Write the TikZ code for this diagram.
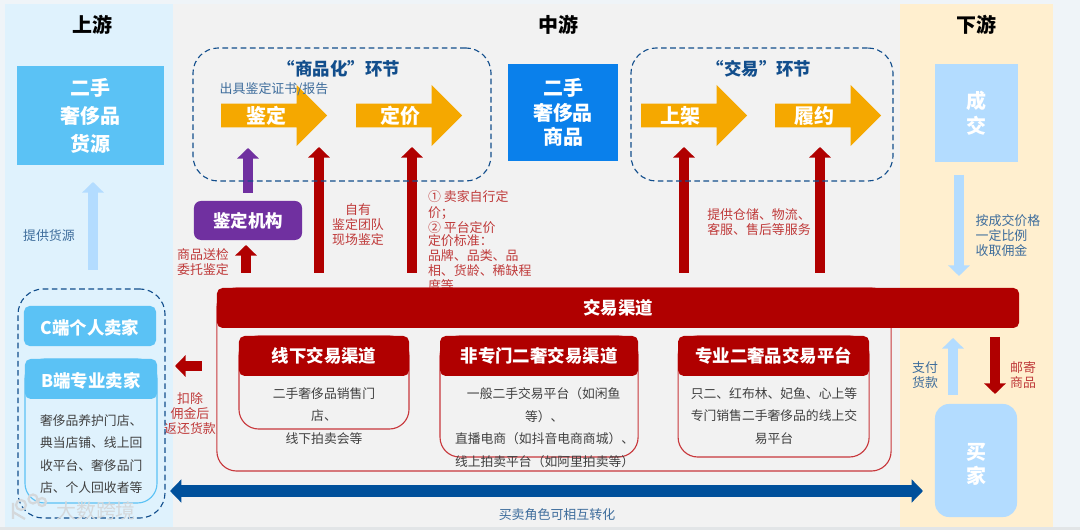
\documentclass[tikz,border=0pt]{standalone}
\usepackage{fontspec}
\setmainfont{Noto Sans CJK SC}
\usetikzlibrary{arrows.meta,positioning,shapes.arrows}
\definecolor{pageMist}{HTML}{EFF4F8}
\definecolor{stripGrey}{HTML}{E2E5E7}
\definecolor{upPanel}{HTML}{DFF2FD}
\definecolor{midPanel}{HTML}{F2F2F2}
\definecolor{downPanel}{HTML}{FFEFCF}
\definecolor{skyBox}{HTML}{5BC2F5}
\definecolor{paleBlue}{HTML}{B3DCFF}
\definecolor{goodsBlue}{HTML}{0A80EB}
\definecolor{amber}{HTML}{F5A800}
\definecolor{grape}{HTML}{7030A0}
\definecolor{deepRed}{HTML}{B00000}
\definecolor{frameRed}{HTML}{C8383C}
\definecolor{noteRed}{HTML}{BF3A3A}
\definecolor{noteBlue}{HTML}{3E6D9C}
\definecolor{navy}{HTML}{00509B}
\definecolor{titleBlue}{HTML}{124E8C}
\definecolor{bodyInk}{HTML}{404040}
\definecolor{markGrey}{HTML}{D4D8DB}
\newcommand{\sizeBig}{\fontsize{14.2pt}{19.9pt}\selectfont\bfseries}
\newcommand{\sizeTight}{\fontsize{14.2pt}{17.4pt}\selectfont\bfseries}
\newcommand{\sizeMid}{\fontsize{12.4pt}{16pt}\selectfont\bfseries}
\newcommand{\sizeNote}{\fontsize{9.2pt}{10.7pt}\selectfont}
\newcommand{\sizeBody}{\fontsize{9.1pt}{16pt}\selectfont}

\begin{document}
\begin{tikzpicture}[
    x=0.025cm, y=-0.025cm,
    every node/.style={inner sep=0pt, outer sep=0pt},
    bigbox/.style={rectangle, align=center, font=\sizeBig\color{white}},
    tightbox/.style={rectangle, align=center, font=\sizeTight\color{white}},
    seller/.style={fill=skyBox, rounded corners=4pt, minimum width=3.3cm, minimum height=1cm, text height=13pt, text depth=1pt, font=\sizeMid\color{white}},
    step arrow/.style={single arrow, single arrow head extend=0.3875cm, single arrow tip angle=90, fill=amber, minimum width=1.525cm, minimum height=2.65cm, font=\sizeBig\color{white}},
    dashbox/.style={draw=titleBlue, dash pattern=on 4pt off 2.5pt, line width=0.8pt, rounded corners=18pt},
    heading/.style={font=\sizeBig\color{black}},
    stage/.style={font=\sizeMid\color{titleBlue}},
    redframe/.style={draw=frameRed, line width=0.8pt, rounded corners=14pt},
    redhead/.style={fill=deepRed, rounded corners=4pt, minimum height=1cm, font=\sizeMid\color{white}},
    body/.style={align=center, font=\sizeBody\color{bodyInk}},
    rednote/.style={align=center, font=\sizeNote\color{noteRed}},
    bluenote/.style={align=left, font=\sizeNote\color{noteBlue}},
    block/.style={line width=7.8pt, -{Triangle[length=7.5pt,width=15pt]}},
    redline/.style={block, draw=deepRed},
    paleline/.style={block, draw=paleBlue}
  ]
    \useasboundingbox (0,0) rectangle (1080,530);
    % Panels
    \fill[pageMist] (0,0) rectangle (1080,530);
    \fill[upPanel] (5,4) rectangle (173,527);
    \fill[midPanel] (173,4) rectangle (900,527);
    \fill[downPanel] (900,4) rectangle (1053,527);
    \fill[stripGrey] (0,527) rectangle (1080,530);

    % Nodes
    \node[heading] (upTitle) at (92,25) {上游};
    \node[heading] (midTitle) at (558,25) {中游};
    \node[heading] (downTitle) at (976,25) {下游};

    \node[bigbox, fill=skyBox, minimum width=3.675cm, minimum height=2.45cm] (source) at (90.5,115.5) {二手\\奢侈品\\货源};
    \node[tightbox, fill=goodsBlue, minimum width=2.75cm, minimum height=2.425cm] (goods) at (563,112.5) {二手\\奢侈品\\商品};
    \node[tightbox, fill=paleBlue, minimum width=2.075cm, minimum height=2.45cm] (deal) at (976.5,113) {成\\交};
    \node[fill=paleBlue, rounded corners=10pt, minimum width=2.05cm, minimum height=2.825cm] (buyer) at (976,460.5) {};
    \node[tightbox] (buyerText) at (buyer.center) [yshift=-0.09cm] {买\\家};

    \node[step arrow, anchor=tail] (appraise) at (221,115.5) {鉴定\hspace*{2.8pt}};
    \node[step arrow, right=0.725cm of appraise] (price) {定价\hspace*{4.3pt}};
    \node[step arrow, anchor=tail] (listing) at (641,115.5) {上架\hspace*{11.4pt}};
    \node[step arrow, right=0.7cm of listing] (fulfil) {履约\hspace*{11.4pt}};
    \node[stage] (goodsStage) at (339,68.5) {“商品化”环节};
    \node[stage] (tradeStage) at (759,68.5) {“交易”环节};
    \node[bluenote] (certNote) at (274,89) {出具鉴定证书/报告};

    \node[fill=grape, rounded corners=5pt, minimum width=2.7cm, minimum height=0.975cm, font=\sizeMid\color{white}] (agent) at (248,220.5) {鉴定机构};

    \node[rednote] (sendNote) at (203,262) {商品送检\\委托鉴定};
    \node[rednote] (teamNote) at (358,225) {自有\\鉴定团队\\现场鉴定};
    \node[rednote, align=left, anchor=north west] (priceNote) at (428,191) {① 卖家自行定\\价；\\② 平台定价\\[-1.4pt]定价标准：\\品牌、品类、品\\相、货龄、稀缺程\\度等};
    \node[rednote, align=left] (serviceNote) at (759,222.5) {提供仓储、物流、\\客服、售后等服务};
    \node[rednote] (returnNote) at (190,414) {扣除\\佣金后\\返还货款};
    \node[bluenote] (supplyNote) at (49,236) {提供货源};
    \node[bluenote] (feeNote) at (1008,236) {按成交价格\\一定比例\\收取佣金};
    \node[bluenote, align=center] (payNote) at (925,375) {支付\\货款};
    \node[rednote] (mailNote) at (1023,375) {邮寄\\商品};
    \node[bluenote, align=center] (swapNote) at (557,515) {买卖角色可相互转化};

    \node[redframe, minimum width=16.85cm, minimum height=4.575cm] (channels) at (554,379.5) {};
    \node[fill=deepRed, rounded corners=4pt, minimum width=20.05cm, minimum height=1cm, font=\sizeMid\color{white}, anchor=north west] (bar) at (channels.north west) {交易渠道};

    \node[redframe, minimum width=4.25cm, minimum height=2.325cm] (offlineBox) at (324,382.5) {};
    \node[redframe, minimum width=4.95cm, minimum height=3.025cm, right=0.775cm of offlineBox.north east, anchor=north west] (generalBox) {};
    \node[redframe, minimum width=4.775cm, minimum height=3.025cm, right=1cm of generalBox.north east, anchor=north west] (proBox) {};
    \node[redhead, minimum width=4.25cm, below=0cm of offlineBox.north] (offlineHead) {线下交易渠道};
    \node[redhead, minimum width=4.95cm, below=0cm of generalBox.north] (generalHead) {非专门二奢交易渠道};
    \node[redhead, minimum width=4.775cm, below=0cm of proBox.north] (proHead) {专业二奢品交易平台};
    \node[body] (offlineText) at (324,416) {二手奢侈品销售门\\店、\\线下拍卖会等};
    \node[body, align=left, anchor=west] (generalText) at (455,427.5) {\hspace*{8.5pt}一般二手交易平台（如闲鱼\\\hspace*{49.8pt}等）、\\直播电商（如抖音电商商城）、\\线上拍卖平台（如阿里拍卖等）};
    \node[body] (proText) at (774,416) {只二、红布林、妃鱼、心上等\\专门销售二手奢侈品的线上交\\易平台};

    \node[redframe, draw=skyBox, minimum width=3.3cm, minimum height=3.6cm] (bendBox) at (91,431) {};
    \node[seller] (cSeller) at (90,326) {C端个人卖家};
    \node[seller, below=0cm of bendBox.north] (bSeller) {B端专业卖家};
    \node[body, align=left, anchor=north west] (bText) at (40,414.5) {奢侈品养护门店、\\典当店铺、线上回\\收平台、奢侈品门\\店、个人回收者等};

    \node[dashbox, minimum width=3.675cm, minimum height=5.725cm] (sellers) at (91.5,403.5) {};

    % Edges
    \coordinate (supplyTop) at (93,164);
    \coordinate (selfTop) at (319,147);
    \coordinate (priceTop) at (412,147);
    \coordinate (listTop) at (684,147);
    \coordinate (fulfilTop) at (820,147);
    \coordinate (agentFoot) at (246,245);
    \coordinate (agentTop) at (248,148);
    \coordinate (returnTip) at (175,366);
    \coordinate (feeTail) at (959,162);
    \coordinate (payLine) at (953,360);
    \coordinate (mailLine) at (995,360);
    \coordinate (swapLine) at (500,491);

    \draw[paleline, shorten <=0.475cm, shorten >=0.45cm] (sellers.north -| supplyTop) -- (supplyTop);
    \draw[block, draw=grape, shorten <=0.2cm] (agent.north) -- (agentTop);
    \draw[redline, shorten <=0.375cm] (bar.north -| agentFoot) -- (agentFoot);
    \draw[redline, shorten <=0.375cm] (bar.north -| selfTop) -- (selfTop);
    \draw[redline, shorten <=0.375cm] (bar.north -| priceTop) -- (priceTop);
    \draw[redline, shorten <=0.375cm] (bar.north -| listTop) -- (listTop);
    \draw[redline, shorten <=0.375cm] (bar.north -| fulfilTop) -- (fulfilTop);
    \draw[redline, shorten <=0.375cm] (channels.west |- returnTip) -- (returnTip);
    \draw[paleline, shorten <=0.325cm, shorten >=0.3cm] (feeTail) -- (feeTail |- bar.north);
    \draw[paleline, shorten <=0.225cm, shorten >=0.25cm] (buyer.north -| payLine) -- (bar.south -| payLine);
    \draw[redline, shorten <=0.225cm, shorten >=0.25cm] (bar.south -| mailLine) -- (buyer.north -| mailLine);
    \draw[line width=8.5pt, draw=navy, {Triangle[length=8pt,width=16pt]}-{Triangle[length=8pt,width=16pt]}, shorten <=0.125cm, shorten >=0.3cm] (sellers.east |- swapLine) -- (buyer.west |- swapLine);

    % Dashed groups
    \node[dashbox, minimum width=7.45cm, minimum height=3.325cm] (goodsGroup) at (342,114.5) {};
    \node[dashbox, minimum width=6.55cm, minimum height=3.325cm] (tradeGroup) at (762,114.5) {};

    % Watermark
    \node[font=\fontsize{14.2pt}{16pt}\selectfont\color{markGrey}] (mark) at (96,511) {大数跨境};
    \draw[markGrey, line width=1.6pt] (13,503) -- (13,519) (13,512) -- (25,519) (21,505) circle[radius=5] (33,499) circle[radius=4.5] (42,502) circle[radius=4];
  \end{tikzpicture}
\end{document}
